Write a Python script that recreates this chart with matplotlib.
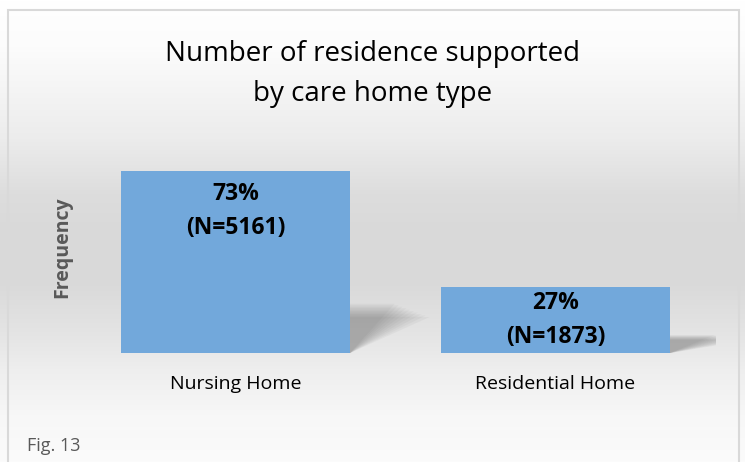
import numpy as np
import matplotlib.pyplot as plt
from matplotlib.patches import Rectangle, Polygon

categories = ['Nursing Home', 'Residential Home']
counts = [5161, 1873]
percents = [73, 27]

plt.rcParams['font.family'] = ['Open Sans', 'DejaVu Sans']

fig = plt.figure(figsize=(7.45, 4.62), dpi=100)

# fond en dégradé
bg = fig.add_axes([0, 0, 1, 1], zorder=0)
pos = np.array([0.0, 0.1, 0.3, 0.42, 0.5, 0.62, 0.72, 0.8, 0.9, 1.0])
col = np.array([255, 252, 236, 221, 217, 218, 228, 238, 247, 251]) / 255
yy = np.linspace(0, 1, 462)
grad = np.interp(yy, pos, col).reshape(-1, 1)
bg.imshow(np.dstack([grad, grad, grad]), aspect='auto', extent=[0, 1, 1, 0])
bg.set_xlim(0, 1)
bg.set_ylim(1, 0)
bg.axis('off')
# cadre
fig.patches.append(Rectangle((8 / 745, -0.01), 731 / 745, (462 - 10) / 462 + 0.01,
                             transform=fig.transFigure, fill=False,
                             edgecolor='#d9d9d9', lw=1.5, zorder=1))

ax = fig.add_axes([75.5 / 745, (462 - 353) / 462, 640 / 745, 212 / 462], zorder=2)
ax.patch.set_alpha(0)
x = np.arange(len(categories))
w = 0.716
bars = ax.bar(x, counts, width=w, color='#72a8db', zorder=3)

# ombres en perspective
for xi, c in zip(x, counts):
    left, right = xi - w / 2, xi + w / 2
    sh = min(c * 0.27, 1400)
    for k in range(10):
        s = 0.14 + 0.012 * k
        hk = sh * (1 - 0.03 * k)
        poly = Polygon([(left, 0), (right, 0), (right + s, hk), (left + s, hk)],
                       closed=True, facecolor='#606060', alpha=0.055, lw=0, zorder=2)
        ax.add_patch(poly)

# étiquettes dans les barres
for b, p, n in zip(bars, percents, counts):
    h = b.get_height()
    yc = max(h - 1150, h / 2)
    ax.text(b.get_x() + b.get_width() / 2, yc,
            f'{p}%\n(N={n})', ha='center', va='center', fontsize=16.5,
            fontweight='bold', linespacing=1.55, color='black', zorder=4)

ax.set_xlim(-0.5, 1.5)
ax.set_ylim(0, 6000)
ax.set_xticks(x)
ax.set_xticklabels(categories, fontsize=14)
ax.tick_params(axis='x', length=0, pad=16)
ax.set_yticks([])
for s in ax.spines.values():
    s.set_visible(False)
ax.set_ylabel('Frequency', fontsize=14, fontweight='bold', color='#595959', labelpad=2)

fig.text(0.5, 1 - 74 / 462, 'Number of residence supported\nby care home type',
         ha='center', va='center', fontsize=20, linespacing=1.55, zorder=3)
fig.text(27 / 745, 1 - 446 / 462, 'Fig. 13', ha='left', va='center',
         fontsize=13, color='#595959', zorder=3)

fig.savefig('out.png', dpi=100)
